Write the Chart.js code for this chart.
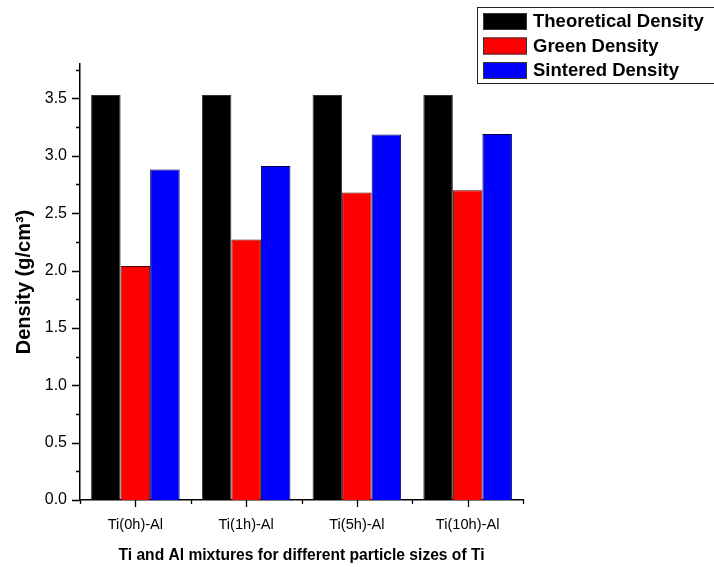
<!DOCTYPE html>
<html>
<head>
<meta charset="utf-8">
<script src="https://cdn.jsdelivr.net/npm/chart.js@4"></script>
<style>
  html, body { margin: 0; padding: 0; background: #fff; }
  #wrap { width: 714px; height: 567px; }
</style>
</head>
<body>
<div id="wrap"><canvas id="densityChart" width="714" height="567"></canvas></div>
<script>
var categories = ["Ti(0h)-Al", "Ti(1h)-Al", "Ti(5h)-Al", "Ti(10h)-Al"];
var theoreticalDensity = [3.53, 3.53, 3.53, 3.53];
var greenDensity = [2.04, 2.27, 2.68, 2.70];
var sinteredDensity = [2.88, 2.91, 3.185, 3.19];
var yTicks = [0, 0.5, 1.0, 1.5, 2.0, 2.5, 3.0, 3.5];
var yMax = 3.8;

var FONT = "Arial, 'Liberation Sans', sans-serif";

// axis tick marks, major + minor, drawn outward
var tickMarks = {
    id: "tickMarks",
    afterDraw: function (chart) {
        var ctx = chart.ctx;
        var x = chart.scales.x;
        var y = chart.scales.y;
        ctx.save();
        ctx.strokeStyle = "#000";
        ctx.lineWidth = 1.3;
        ctx.beginPath();
        for (var v = 0; v <= yMax; v += 0.25) {
            var py = Math.round(y.getPixelForValue(v)) + 0.5;
            var major = yTicks.indexOf(Math.round(v * 100) / 100) >= 0;
            ctx.moveTo(y.right, py);
            ctx.lineTo(y.right - (major ? 8 : 4), py);
        }
        var step = (x.right - x.left) / categories.length;
        for (var i = 0; i < categories.length; i++) {
            var cx = Math.round(x.getPixelForValue(i)) + 0.5;
            ctx.moveTo(cx, x.top);
            ctx.lineTo(cx, x.top + 7);
        }
        for (var j = 0; j <= categories.length; j++) {
            var bx = Math.round(x.left + j * step) + 0.5;
            ctx.moveTo(bx, x.top);
            ctx.lineTo(bx, x.top + 4);
        }
        ctx.stroke();
        ctx.restore();
    }
};

// boxed legend in the top right corner
var boxLegend = {
    id: "boxLegend",
    afterDraw: function (chart) {
        var ctx = chart.ctx;
        var sets = chart.data.datasets;
        ctx.save();
        ctx.fillStyle = "#fff";
        ctx.fillRect(477, 7, 240, 76);
        ctx.strokeStyle = "#222";
        ctx.lineWidth = 1;
        ctx.strokeRect(477.5, 7.5, 240, 76);
        ctx.font = "bold 18.5px " + FONT;
        ctx.textBaseline = "middle";
        for (var i = 0; i < sets.length; i++) {
            var top = 13 + i * 24.5;
            ctx.fillStyle = sets[i].backgroundColor;
            ctx.fillRect(483, top, 44, 17);
            ctx.strokeStyle = "#333";
            ctx.strokeRect(483.5, top + 0.5, 43, 16);
            ctx.fillStyle = "#000";
            ctx.fillText(sets[i].label, 533, top + 9);
        }
        ctx.restore();
    }
};

new Chart(document.getElementById("densityChart").getContext("2d"), {
    type: "bar",
    data: {
        labels: categories,
        datasets: [
            {
                label: "Theoretical Density",
                data: theoreticalDensity,
                backgroundColor: "#000000",
                borderColor: "#333333",
                borderWidth: 1,
            },
            {
                label: "Green Density",
                data: greenDensity,
                backgroundColor: "#ff0000",
                borderColor: "#550000",
                borderWidth: 1,
            },
            {
                label: "Sintered Density",
                data: sinteredDensity,
                backgroundColor: "#0000ff",
                borderColor: "#000044",
                borderWidth: 1,
            },
        ],
    },
    options: {
        responsive: false,
        animation: false,
        layout: { padding: { top: 64, right: 191, left: 0, bottom: 0 } },
        plugins: {
            legend: { display: false },
            tooltip: { enabled: false },
        },
        datasets: {
            bar: { categoryPercentage: 0.8, barPercentage: 1.0 },
        },
        scales: {
            x: {
                grid: { display: false },
                border: { display: true, color: "#000", width: 1.5 },
                ticks: { color: "#000", padding: 8, font: { family: FONT, size: 14.6 } },
                title: {
                    display: true,
                    text: "Ti and Al mixtures for different particle sizes of Ti",
                    color: "#000",
                    font: { family: FONT, size: 15.6, weight: "bold" },
                    padding: { top: 10, bottom: 2 },
                },
                afterFit: function (s) { s.height = 67; },
            },
            y: {
                min: 0,
                max: yMax,
                grid: { display: false },
                border: { display: true, color: "#000", width: 1.5 },
                ticks: {
                    stepSize: 0.5,
                    color: "#000",
                    padding: 5,
                    font: { family: FONT, size: 16 },
                    callback: function (v) {
                        return yTicks.indexOf(Math.round(v * 100) / 100) >= 0 ? v.toFixed(1) : "";
                    },
                },
                title: {
                    display: true,
                    text: "Density (g/cm\u00b3)",
                    color: "#000",
                    font: { family: FONT, size: 20, weight: "bold" },
                    padding: { top: 12, bottom: 0 },
                },
                afterFit: function (s) { s.width = 80; },
            },
        },
    },
    plugins: [tickMarks, boxLegend],
});
</script>
</body>
</html>
